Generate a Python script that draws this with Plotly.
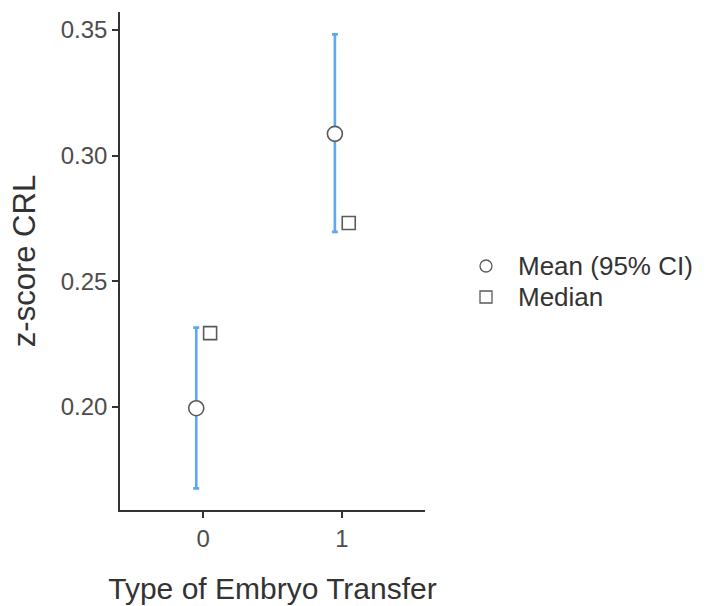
import plotly.graph_objects as go

# Embryo transfer type groups
groups = [0, 1]
mean_z = [0.1995, 0.3087]
ci_lower = [0.1676, 0.2697]
ci_upper = [0.2316, 0.3483]
median_z = [0.2294, 0.2732]

legend_labels = ["Mean (95% CI)", "Median"]

dodge = 0.05
err_color = "#5ea7f2"
mark_line = "#5a5a5a"
font_family = "Liberation Sans, Arial, sans-serif"

x_mean = [g - dodge for g in groups]
x_median = [g + dodge for g in groups]

fig = go.Figure()

fig.add_trace(go.Scatter(
    x=x_mean, y=mean_z, mode="markers", name=legend_labels[0],
    showlegend=False,
    marker=dict(symbol="circle", size=15, color="white",
                line=dict(color=mark_line, width=1.6)),
    error_y=dict(type="data", symmetric=False,
                 array=[u - m for u, m in zip(ci_upper, mean_z)],
                 arrayminus=[m - l for m, l in zip(mean_z, ci_lower)],
                 color=err_color, thickness=2.6, width=3),
))
fig.add_trace(go.Scatter(
    x=x_median, y=median_z, mode="markers", name=legend_labels[1],
    showlegend=False,
    marker=dict(symbol="square", size=13, color="white",
                line=dict(color=mark_line, width=1.6)),
))

# compact key to the right of the panel
key_x = 1.2         # symbol centre, paper units
key_text_x = 1.302
key_rows = [0.490, 0.4277]
key_shapes = ["circle", "rect"]
for label, ky, kind in zip(legend_labels, key_rows, key_shapes):
    fig.add_shape(type=kind, xref="paper", yref="paper",
                  xsizemode="pixel", ysizemode="pixel",
                  xanchor=key_x, yanchor=ky,
                  x0=-6, x1=6, y0=-6, y1=6,
                  line=dict(color=mark_line, width=1.3), fillcolor="white")
    fig.add_annotation(text=label, xref="paper", yref="paper",
                       x=key_text_x, y=ky, xanchor="left", yanchor="middle",
                       showarrow=False, borderpad=0,
                       font=dict(family=font_family, size=26, color="#333333"))

axis_common = dict(
    showline=True, linecolor="#333333", linewidth=1.5,
    ticks="outside", ticklen=6, tickwidth=1.5, tickcolor="#333333",
    showgrid=False, zeroline=False, automargin=False,
    tickfont=dict(family=font_family, size=24, color="#4d4d4d"),
)

fig.update_layout(
    width=716, height=606,
    margin=dict(l=120, r=291, t=12, b=96),
    paper_bgcolor="white", plot_bgcolor="white",
    showlegend=False,
    font=dict(family=font_family, color="#333333"),
    xaxis=dict(range=[-0.6, 1.6], tickvals=groups,
               ticktext=[str(g) for g in groups],
               title=dict(text="Type of Embryo Transfer",
                          font=dict(size=30, color="#333333"), standoff=27),
               **axis_common),
    yaxis=dict(range=[0.1590, 0.3572], tickvals=[0.20, 0.25, 0.30, 0.35],
               tickformat=".2f",
               title=dict(text="z-score CRL",
                          font=dict(size=31, color="#333333"), standoff=16),
               **axis_common),
)

fig.write_html("out.html")
